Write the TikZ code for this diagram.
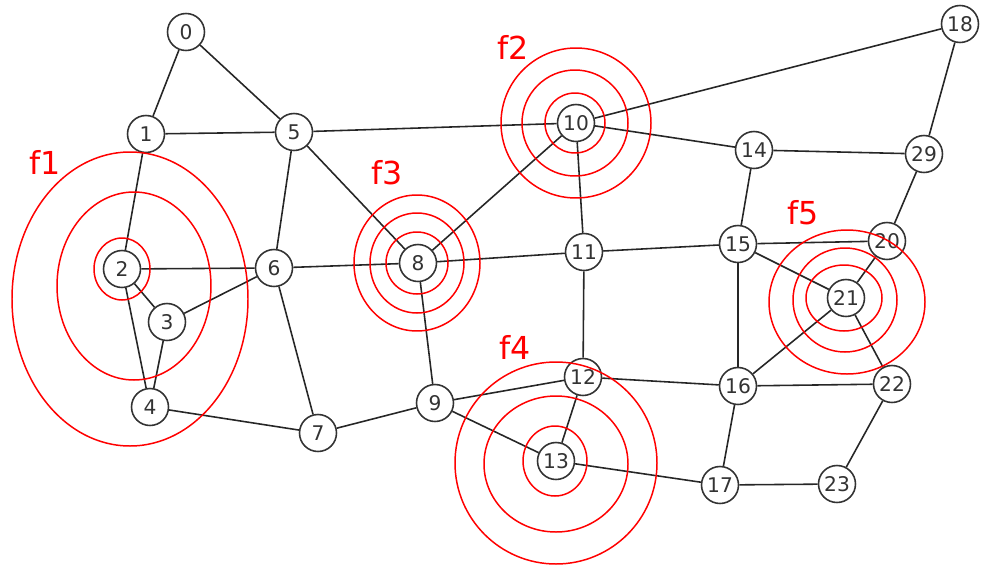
\documentclass[tikz,border=0pt]{standalone}
\usepackage{fontspec}
\setmainfont{DejaVu Sans}
\begin{document}
\begin{tikzpicture}
  [x=0.02cm,y=-0.02cm,
   every node/.style={circle,draw=black!80,fill=white,line width=0.9pt,
     inner sep=0pt,minimum size=0.74cm,text=black!80,
     font=\fontsize{11.5}{12}\selectfont},
   edge/.style={line width=0.9pt,draw=black!85},
   ring/.style={draw=red,line width=0.85pt},
   tag/.style={draw=none,fill=none,rectangle,text=red,
     font=\fontsize{18}{20}\selectfont}]

  \useasboundingbox (0,0) rectangle (981,568);

  \node (n0) at (186,32) {0};
  \node (n1) at (146,134) {1};
  \node (n2) at (122,269) {2};
  \node (n3) at (167,322) {3};
  \node (n4) at (150,407) {4};
  \node (n5) at (294,132) {5};
  \node (n6) at (274,268) {6};
  \node (n7) at (318,433) {7};
  \node (n8) at (418,263) {8};
  \node (n9) at (435,403) {9};
  \node (n10) at (576,123) {10};
  \node (n11) at (584,252) {11};
  \node (n12) at (583,377) {12};
  \node (n13) at (556,461) {13};
  \node (n14) at (754,150) {14};
  \node (n15) at (738,244) {15};
  \node (n16) at (738,386) {16};
  \node (n17) at (720,485) {17};
  \node (n18) at (960,24) {18};
  \node (n20) at (887,241) {20};
  \node (n21) at (846,298) {21};
  \node (n22) at (892,384) {22};
  \node (n23) at (837,484) {23};
  \node (n29) at (924,154) {29};

  \foreach \from/\to in {0/1,0/5,1/5,1/2,2/6,2/3,2/4,3/4,3/6,4/7,5/6,5/8,5/10,
      6/8,6/7,8/10,8/11,8/9,9/7,9/12,9/13,10/18,10/14,10/11,11/15,11/12,
      12/13,12/16,13/17,14/15,14/29,18/29,29/20,15/20,15/21,15/16,20/21,
      21/16,21/22,16/22,16/17,17/23,22/23}
    \draw[edge] (n\from) -- (n\to);

  % f1
  \draw[ring] (122,269) ellipse [x radius=28,y radius=31];
  \draw[ring] (134,286) ellipse [x radius=77,y radius=94];
  \draw[ring] (130,299) ellipse [x radius=118,y radius=147];
  % f2
  \draw[ring] (575,123) circle [radius=30];
  \draw[ring] (575,123) circle [radius=53];
  \draw[ring] (576,123) circle [radius=75];
  % f3
  \draw[ring] (417,263) circle [radius=31];
  \draw[ring] (417,263) ellipse [x radius=47,y radius=50];
  \draw[ring] (417,263) ellipse [x radius=63,y radius=68];
  % f4
  \draw[ring] (555,461) ellipse [x radius=32,y radius=35];
  \draw[ring] (556,464) ellipse [x radius=72,y radius=68];
  \draw[ring] (556,463) circle [radius=101];
  % f5
  \draw[ring] (844,298) ellipse [x radius=38,y radius=33];
  \draw[ring] (845,300) circle [radius=52];
  \draw[ring] (847,302) ellipse [x radius=78,y radius=72];

  \node[tag] (f1) at (45,162) {f1};
  \node[tag] (f2) at (513,47) {f2};
  \node[tag] (f3) at (387,173) {f3};
  \node[tag] (f4) at (515,347) {f4};
  \node[tag] (f5) at (803,213) {f5};
\end{tikzpicture}
\end{document}
